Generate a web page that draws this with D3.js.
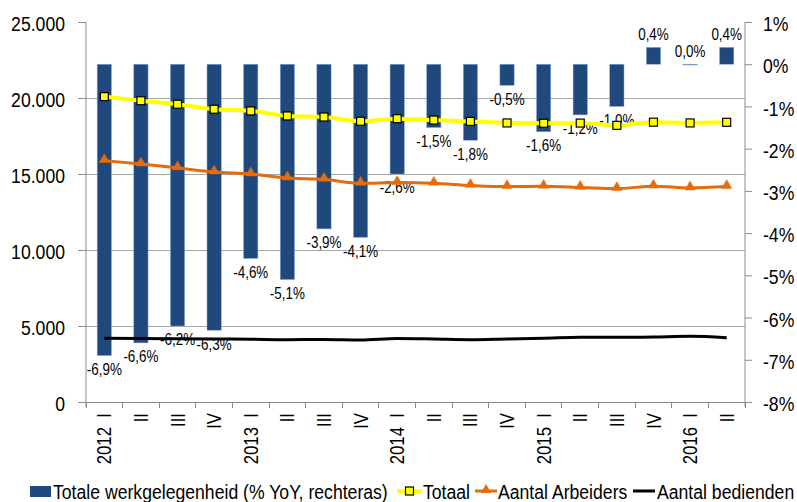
<!DOCTYPE html>
<html>
<head>
<meta charset="utf-8">
<script src="https://cdn.jsdelivr.net/npm/d3@7"></script>
<style>
html,body{margin:0;padding:0;background:#fff;}
svg{display:block;}
text{font-family:"Liberation Sans",Arial,sans-serif;fill:#000;}
</style>
</head>
<body>
<svg id="chart" width="797" height="502"></svg>
<script>
// ---- data ----
const categories = ["2012 I","II","III","IV","2013 I","II","III","IV","2014 I","II","III","IV","2015 I","II","III","IV","2016 I","II"];
const totaleYoY = [-6.9,-6.6,-6.2,-6.3,-4.6,-5.1,-3.9,-4.1,-2.6,-1.5,-1.8,-0.5,-1.6,-1.2,-1.0,0.4,0.0,0.4];
const totaal = [20090,19820,19590,19260,19150,18820,18750,18470,18640,18550,18460,18360,18340,18350,18200,18410,18360,18400];
const arbeiders = [15880,15660,15400,15130,15000,14740,14650,14390,14440,14390,14250,14170,14190,14120,14040,14200,14080,14170];
const bedienden = [4190,4180,4160,4145,4125,4100,4120,4085,4180,4145,4100,4145,4190,4255,4255,4275,4320,4230];
const leftTicks = [0,5000,10000,15000,20000,25000];
const rightTicks = [-8,-7,-6,-5,-4,-3,-2,-1,0,1];
const seriesNames = ["Totale werkgelegenheid (% YoY, rechteras)","Totaal","Aantal Arbeiders","Aantal bedienden"];

// ---- layout ----
const L = 86, R = 745, T = 22, B = 402;
const SX = 0.84; // narrow font factor
const svg = d3.select("#chart");

const x = d3.scaleBand().domain(d3.range(categories.length)).range([L, R]).padding(0);
const yL = d3.scaleLinear().domain([0, 25000]).range([B, T]);
const yR = d3.scaleLinear().domain([-8, 1]).range([B, T]);

const gridColor = "#a6a6a6", axisColor = "#8c8c8c";
const fmtL = d => d3.format(",")(d).replace(/,/g, ".");
const fmtPct = d => d3.format(".1f")(d).replace("\u2212", "-").replace(".", ",") + "%";

// gridlines
svg.append("g").selectAll("line").data([5000,10000,15000,20000]).join("line")
  .attr("x1", L).attr("x2", R).attr("y1", d => yL(d)).attr("y2", d => yL(d))
  .attr("stroke", gridColor).attr("stroke-width", 1).attr("shape-rendering","crispEdges");

// left axis
const gL = svg.append("g").attr("transform", `translate(${L},0)`)
  .call(d3.axisLeft(yL).tickValues(leftTicks).tickFormat(fmtL).tickSize(8).tickSizeOuter(0));
gL.select(".domain").attr("stroke", axisColor).attr("d", `M0,${T}V${B+5}`);
gL.selectAll(".tick line").attr("stroke", axisColor);
gL.selectAll(".tick text").attr("x", 0).attr("dy", null).attr("dominant-baseline", "central")
  .attr("text-anchor", "end").attr("font-size", 21).attr("fill", "#000")
  .attr("font-family", '"Liberation Sans",Arial,sans-serif')
  .attr("transform", `translate(-21,1) scale(${SX},1)`);

// right axis
const gR = svg.append("g").attr("transform", `translate(${R},0)`)
  .call(d3.axisRight(yR).tickValues(rightTicks).tickFormat(d => `${d}%`).tickSize(7).tickSizeOuter(0));
gR.select(".domain").attr("stroke", axisColor).attr("d", `M0,${T}V${B+5}`);
gR.selectAll(".tick line").attr("stroke", axisColor);
gR.selectAll(".tick text").attr("x", 0).attr("dy", null).attr("dominant-baseline", "central")
  .attr("text-anchor", "start").attr("font-size", 21).attr("fill", "#000")
  .attr("font-family", '"Liberation Sans",Arial,sans-serif')
  .attr("transform", `translate(18,1) scale(${SX},1)`);

// bottom axis
svg.append("line").attr("x1", L).attr("x2", R).attr("y1", B).attr("y2", B)
  .attr("stroke", axisColor).attr("shape-rendering","crispEdges");
const bounds = d3.range(categories.length + 1).map(i => i < categories.length ? x(i) : R);
svg.append("g").selectAll("line").data(bounds).join("line")
  .attr("x1", d => d).attr("x2", d => d).attr("y1", B).attr("y2", B + 6)
  .attr("stroke", axisColor).attr("shape-rendering","crispEdges");
svg.append("g").selectAll("text").data(categories).join("text")
  .attr("transform", (d, i) => `translate(${x(i) + x.bandwidth()/2},413) rotate(-90) scale(${SX},1)`)
  .attr("text-anchor", "end").attr("dominant-baseline", "central")
  .attr("font-size", 20).attr("xml:space", "preserve")
  .text(d => d.replace(" ", "\u00a0\u00a0"));

// bars
const bw = x.bandwidth() * 0.39;
svg.append("g").selectAll("rect").data(totaleYoY).join("rect")
  .attr("x", (d, i) => x(i) + x.bandwidth()/2 - bw/2)
  .attr("width", bw)
  .attr("y", d => Math.min(yR(d), yR(0)))
  .attr("height", d => Math.max(Math.abs(yR(d) - yR(0)), 0.8))
  .attr("fill", "#1f497d").attr("stroke", "#8eaadb").attr("stroke-width", 0.5);

// bar labels
svg.append("g").selectAll("text").data(totaleYoY).join("text")
  .attr("transform", (d, i) => {
    const cx = x(i) + x.bandwidth()/2;
    const cy = d < 0 ? yR(d) + 14 : yR(d) - 13;
    return `translate(${cx},${cy}) scale(${SX},1)`;
  })
  .attr("text-anchor", "middle").attr("dominant-baseline", "central")
  .attr("font-size", 16).text(d => fmtPct(d));

// lines
const cx = i => x(i) + x.bandwidth()/2;
const line = yS => d3.line().x((d, i) => cx(i)).y(d => yS(d)).curve(d3.curveMonotoneX);

svg.append("path").datum(bedienden).attr("d", line(yL)).attr("fill", "none")
  .attr("stroke", "#000").attr("stroke-width", 3);
svg.append("path").datum(arbeiders).attr("d", line(yL)).attr("fill", "none")
  .attr("stroke", "#e46c0a").attr("stroke-width", 3);
svg.append("path").datum(totaal).attr("d", line(yL)).attr("fill", "none")
  .attr("stroke", "#ffff00").attr("stroke-width", 4);

// markers
const tri = d3.symbol().type(d3.symbolTriangle).size(45);
svg.append("g").selectAll("path").data(arbeiders).join("path")
  .attr("d", tri).attr("transform", (d, i) => `translate(${cx(i)},${yL(d) - 1})`)
  .attr("fill", "#e46c0a").attr("stroke", "#e46c0a").attr("stroke-width", 0.5);
svg.append("g").selectAll("rect").data(totaal).join("rect")
  .attr("x", (d, i) => cx(i) - 4).attr("y", d => yL(d) - 4)
  .attr("width", 8).attr("height", 8)
  .attr("fill", "#ffff00").attr("stroke", "#000").attr("stroke-width", 1.2);

// legend
const lg = svg.append("g");
const ly = 491;
lg.append("rect").attr("x", 30).attr("y", 486).attr("width", 21).attr("height", 11).attr("fill", "#1f497d");
lg.append("line").attr("x1", 397).attr("x2", 422).attr("y1", ly).attr("y2", ly).attr("stroke", "#ffff00").attr("stroke-width", 4);
lg.append("rect").attr("x", 405.5).attr("y", ly - 4).attr("width", 8).attr("height", 8).attr("fill", "#ffff00").attr("stroke", "#000").attr("stroke-width", 1.2);
lg.append("line").attr("x1", 475).attr("x2", 497).attr("y1", ly).attr("y2", ly).attr("stroke", "#e46c0a").attr("stroke-width", 3);
lg.append("path").attr("d", tri).attr("transform", `translate(486,${ly - 1})`).attr("fill", "#e46c0a");
lg.append("line").attr("x1", 633).attr("x2", 655).attr("y1", ly).attr("y2", ly).attr("stroke", "#000").attr("stroke-width", 3);
const legX = [53, 423, 498, 657];
lg.selectAll("text").data(seriesNames).join("text")
  .attr("transform", (d, i) => `translate(${legX[i]},499) scale(${SX},1)`)
  .attr("font-size", 21).text(d => d);
</script>
</body>
</html>
